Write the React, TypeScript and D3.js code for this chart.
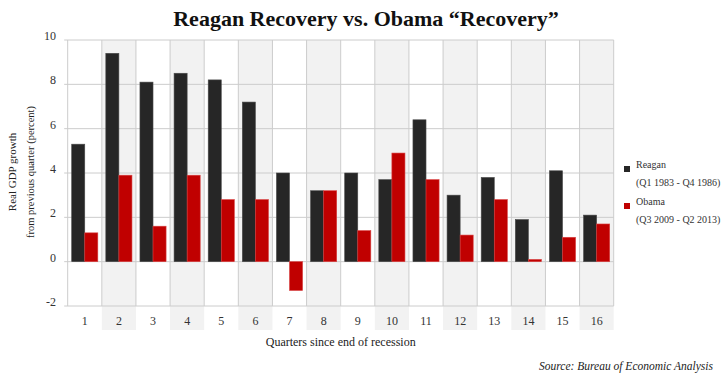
import React from "react";
import * as d3 from "d3";

const quarters = ["1","2","3","4","5","6","7","8","9","10","11","12","13","14","15","16"];
const reagan = [5.3, 9.4, 8.1, 8.5, 8.2, 7.2, 4.0, 3.2, 4.0, 3.7, 6.4, 3.0, 3.8, 1.9, 4.1, 2.1];
const obama = [1.3, 3.9, 1.6, 3.9, 2.8, 2.8, -1.3, 3.2, 1.4, 4.9, 3.7, 1.2, 2.8, 0.1, 1.1, 1.7];
const yTicks = [-2, 0, 2, 4, 6, 8, 10];
const seriesNames = ["Reagan", "Obama"];
const seriesPeriods = ["(Q1 1983 - Q4 1986)", "(Q3 2009 - Q2 2013)"];
const colors = ["#262626", "#c00000"];
const strokes = ["#4a4a4a", "#d84040"];

const W = 725, H = 377;
const left = 67.7, right = 613.7, top = 40, bottom = 306;
const FONT = "Liberation Serif";

export default function App() {
  const x = d3.scaleBand<string>().domain(quarters).range([left, right]).padding(0);
  const y = d3.scaleLinear().domain([-2, 10]).range([bottom, top]);
  const bw = x.bandwidth();
  const inner = d3.scaleBand<string>().domain(["0", "1"]).range([4, bw - 4]).padding(0);
  const series = [reagan, obama];

  return (
    <div style={{ position: "absolute", left: 0, top: 0 }}>
      <svg width={W} height={H} style={{ display: "block", background: "#fff" }}>
        <text x={366} y={26} textAnchor="middle" fontFamily={FONT} fontSize={22} fontWeight="bold" fill="#111">
          Reagan Recovery vs. Obama “Recovery”
        </text>
        {quarters.map((q, i) =>
          i % 2 === 1 ? (
            <rect key={"bg" + q} x={x(q)} y={top} width={bw} height={330 - top} fill="#f2f2f2" />
          ) : null
        )}
        {yTicks.map((t) => (
          <line key={"h" + t} x1={left - 3.5} x2={right} y1={y(t)} y2={y(t)} stroke="#cccccc" strokeWidth={1} />
        ))}
        {quarters.map((q) => (
          <line key={"v" + q} x1={x(q)} x2={x(q)} y1={top} y2={bottom} stroke="#cccccc" strokeWidth={1} />
        ))}
        <line x1={right} x2={right} y1={top} y2={bottom} stroke="#cccccc" strokeWidth={1} />
        {series.map((vals, s) =>
          vals.map((v, i) => {
            const q = quarters[i];
            const bx = (x(q) as number) + (inner(String(s)) as number);
            const y0 = y(0), y1 = y(v);
            return (
              <rect
                key={"b" + s + "-" + i}
                x={bx}
                y={Math.min(y0, y1)}
                width={inner.bandwidth()}
                height={Math.abs(y1 - y0)}
                fill={colors[s]}
                stroke={strokes[s]}
                strokeWidth={0.6}
              />
            );
          })
        )}
        {yTicks.map((t) => (
          <text key={"yt" + t} x={56} y={y(t)} textAnchor="end" fontFamily={FONT} fontSize={12} fill="#333">
            {t}
          </text>
        ))}
        {quarters.map((q) => (
          <text key={"xt" + q} x={(x(q) as number) + bw / 2} y={325} textAnchor="middle" fontFamily={FONT} fontSize={12} fill="#333">
            {q}
          </text>
        ))}
        <text x={(left + right) / 2} y={346} textAnchor="middle" fontFamily={FONT} fontSize={12} fill="#222">
          Quarters since end of recession
        </text>
        <text x={713} y={370} textAnchor="end" fontFamily={FONT} fontSize={11.5} fontStyle="italic" fill="#222">
          Source: Bureau of Economic Analysis
        </text>
        <g transform="translate(16,172) rotate(-90)">
          <text textAnchor="middle" fontFamily={FONT} fontSize={11} fill="#222">Real GDP growth</text>
        </g>
        <g transform="translate(34,172) rotate(-90)">
          <text textAnchor="middle" fontFamily={FONT} fontSize={10.5} fill="#222">from previous quarter (percent)</text>
        </g>
        {seriesNames.map((n, i) => (
          <g key={"lg" + n} transform={`translate(624,${162 + i * 37})`}>
            <rect x={0} y={4} width={6} height={6} fill={colors[i]} />
            <text x={12} y={6} fontFamily={FONT} fontSize={10} fill="#333">{n}</text>
            <text x={12} y={24} fontFamily={FONT} fontSize={10} fill="#333">{seriesPeriods[i]}</text>
          </g>
        ))}
      </svg>
    </div>
  );
}
